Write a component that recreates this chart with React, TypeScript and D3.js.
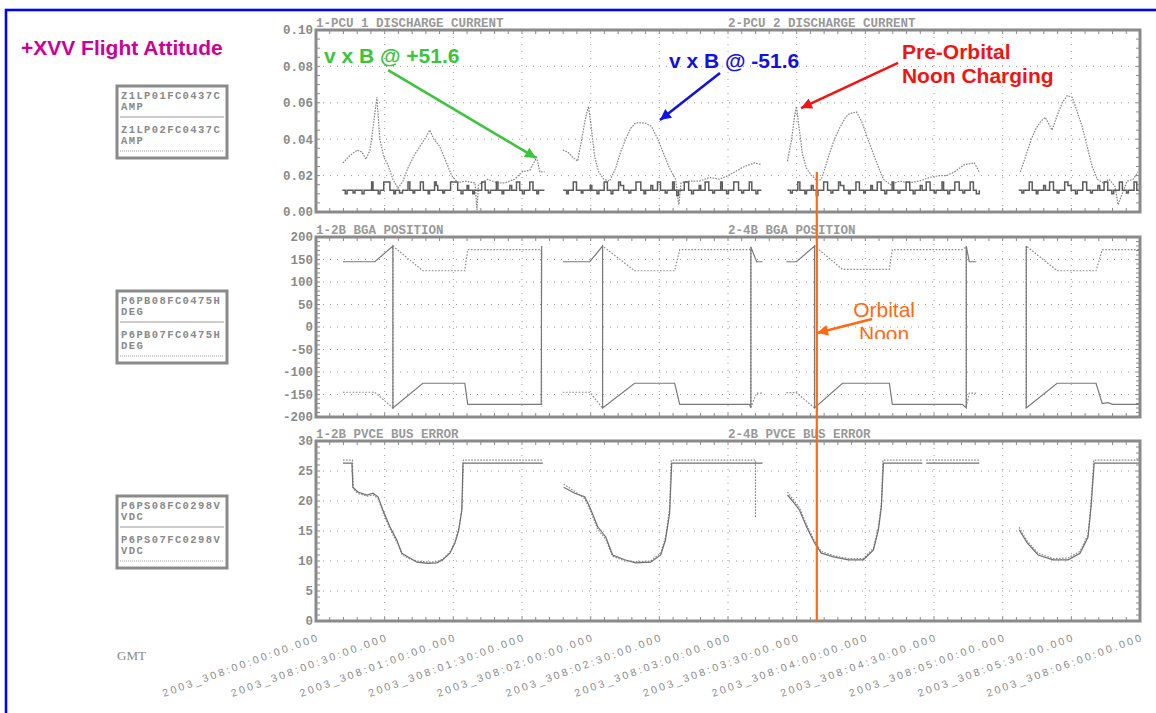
import React, { useEffect, useRef } from 'react'
import * as d3 from 'd3'

type Pt = [number, number] | null

// minutes after 2003_308:00:00:00
const timeTicks = [0, 30, 60, 90, 120, 150, 180, 210, 240, 270, 300, 330, 360]
const timeLabels = [
  '2003_308:00:00:00.000', '2003_308:00:30:00.000', '2003_308:01:00:00.000', '2003_308:01:30:00.000',
  '2003_308:02:00:00.000', '2003_308:02:30:00.000', '2003_308:03:00:00.000', '2003_308:03:30:00.000',
  '2003_308:04:00:00.000', '2003_308:04:30:00.000', '2003_308:05:00:00.000', '2003_308:05:30:00.000',
  '2003_308:06:00:00.000',
]

const pcuTicks = [0, 0.02, 0.04, 0.06, 0.08, 0.1]
const bgaTicks = [-200, -150, -100, -50, 0, 50, 100, 150, 200]
const pvceTicks = [0, 5, 10, 15, 20, 25, 30]

// Z1LP01FC0437C (solid, low stepping trace)
const pcu1: Pt[] = [
  [11.5, 0.012], [12.8, 0.010], [13.6, 0.012], [16.2, 0.0105], [17.0, 0.012], [19.4, 0.012], [20.1, 0.010], [21.0, 0.012],
  [23.7, 0.012], [24.3, 0.0165], [24.9, 0.012], [27.2, 0.010], [28.0, 0.012], [29.6, 0.0165], [32.3, 0.012], [34.0, 0.010],
  [34.7, 0.012], [36.5, 0.0105], [37.8, 0.012], [40.2, 0.0165], [41.0, 0.012], [42.4, 0.0105], [43.1, 0.012], [45.6, 0.0165],
  [46.9, 0.012], [49.0, 0.010], [49.6, 0.012], [51.8, 0.0165], [52.5, 0.0145], [53.2, 0.012], [55.4, 0.0105], [56.1, 0.012],
  [58.8, 0.0165], [61.9, 0.012], [63.4, 0.010], [64.2, 0.012], [66.0, 0.0145], [66.7, 0.012], [68.5, 0.010], [69.2, 0.012],
  [72.4, 0.0165], [73.9, 0.012], [75.3, 0.0105], [76.2, 0.012], [78.8, 0.0165], [79.5, 0.012], [81.3, 0.010], [82.0, 0.012],
  [84.7, 0.0145], [85.5, 0.012], [87.6, 0.0165], [89.0, 0.012], [90.2, 0.010], [91.0, 0.012], [93.4, 0.0165], [94.8, 0.012],
  [96.5, 0.010], [97.2, 0.012], [99.8, 0.012],
  null,
  [108, 0.012], [109.5, 0.010], [110.2, 0.012], [112.4, 0.0165], [113.8, 0.012], [115.9, 0.0105], [116.6, 0.012], [119.1, 0.012],
  [119.8, 0.0145], [120.5, 0.012], [122.8, 0.010], [123.6, 0.012], [125.9, 0.0165], [127.3, 0.012], [128.9, 0.010], [129.7, 0.012],
  [132.2, 0.0165], [133.0, 0.0145], [134.4, 0.012], [136.7, 0.0105], [137.5, 0.012], [139.8, 0.0165], [141.9, 0.012], [143.3, 0.010],
  [144.0, 0.012], [146.3, 0.0145], [147.1, 0.012], [149.2, 0.0165], [150.5, 0.012], [152.6, 0.0105], [153.4, 0.012], [155.8, 0.0165],
  [156.5, 0.012], [157.6, 0.009], [158.4, 0.012], [160.9, 0.0165], [162.8, 0.012], [164.1, 0.010], [164.9, 0.012], [167.4, 0.0145],
  [168.1, 0.012], [170.0, 0.0165], [171.6, 0.012], [173.3, 0.0105], [174.1, 0.012], [176.8, 0.0165], [177.5, 0.012], [179.4, 0.010],
  [180.2, 0.012], [182.5, 0.0165], [184.6, 0.012], [186.0, 0.0105], [186.8, 0.012], [189.3, 0.0165], [190.4, 0.012], [192.2, 0.010],
  [193.0, 0.012], [194.6, 0.012],
  null,
  [206, 0.012], [207.3, 0.0105], [208.1, 0.012], [210.5, 0.0165], [211.4, 0.012], [213.6, 0.010], [214.3, 0.012], [216.4, 0.0145],
  [217.2, 0.012], [218.6, 0.009], [219.3, 0.012], [221.8, 0.0165], [223.5, 0.012], [225.0, 0.0105], [225.8, 0.012], [228.3, 0.0165],
  [229.1, 0.0145], [230.6, 0.012], [232.7, 0.010], [233.4, 0.012], [235.9, 0.0165], [237.4, 0.012], [239.3, 0.0105], [240.0, 0.012],
  [242.4, 0.0145], [243.1, 0.012], [245.2, 0.0165], [246.9, 0.012], [248.5, 0.010], [249.3, 0.012], [251.7, 0.0165], [252.4, 0.012],
  [254.3, 0.0105], [255.1, 0.012], [257.8, 0.0165], [259.4, 0.012], [260.9, 0.010], [261.7, 0.012], [264.0, 0.0145], [264.8, 0.012],
  [266.6, 0.0165], [268.3, 0.012], [270.1, 0.0105], [270.9, 0.012], [273.5, 0.0165], [274.2, 0.012], [276.0, 0.010], [276.8, 0.012],
  [279.1, 0.0165], [281.0, 0.012], [282.6, 0.0105], [283.4, 0.012], [285.8, 0.0165], [287.2, 0.012], [288.5, 0.010], [289.8, 0.012],
  null,
  [307, 0.012], [308.4, 0.0105], [309.2, 0.012], [311.6, 0.0165], [312.9, 0.012], [314.7, 0.010], [315.4, 0.012], [317.9, 0.0145],
  [318.7, 0.012], [320.5, 0.0165], [322.2, 0.012], [323.8, 0.0105], [324.6, 0.012], [327.1, 0.0165], [328.5, 0.0145], [329.9, 0.012],
  [331.8, 0.010], [332.6, 0.012], [335.0, 0.0165], [336.7, 0.012], [338.4, 0.0105], [339.2, 0.012], [341.6, 0.0145], [342.4, 0.012],
  [344.3, 0.0165], [345.9, 0.012], [347.7, 0.010], [348.5, 0.012], [351.0, 0.0165], [352.3, 0.012], [354.1, 0.0105], [354.9, 0.012],
  [357.4, 0.0165], [358.6, 0.012], [359.6, 0.012],
]

// Z1LP02FC0437C (dotted, charging peaks)
const pcu2: Pt[] = [
  [11.8, 0.027], [14.8, 0.031], [17.9, 0.034], [20.1, 0.033], [21.8, 0.029], [23.6, 0.034], [25.3, 0.05], [26.6, 0.063],
  [27.9, 0.04], [29.7, 0.03], [31.4, 0.026], [33.6, 0.018], [35.8, 0.013], [38, 0.017], [40.1, 0.024], [42.8, 0.031],
  [45.4, 0.036], [48, 0.041], [49.7, 0.045], [51.5, 0.04], [54.1, 0.036], [56.7, 0.028], [59.3, 0.02], [62, 0.016],
  [65, 0.017], [69.5, 0.016], [70.3, 0.001], [71, 0.015], [75, 0.018], [79, 0.016], [82.5, 0.016], [86.8, 0.018],
  [89.9, 0.022], [93.4, 0.023], [96.4, 0.03], [97.8, 0.022], [99.9, 0.022],
  null,
  [107.8, 0.034], [110, 0.033], [112.2, 0.03], [114.3, 0.028], [116.1, 0.04], [117.8, 0.052], [119.1, 0.058], [120.4, 0.045],
  [121.8, 0.03], [123.5, 0.022], [125.7, 0.018], [128.3, 0.017], [130.9, 0.024], [133.1, 0.033], [135.3, 0.04], [137.5, 0.046],
  [139.6, 0.049], [143.6, 0.049], [146.6, 0.047], [149.3, 0.04], [151.9, 0.032], [154.5, 0.024], [157.1, 0.018], [158.5, 0.004],
  [159.5, 0.016], [163, 0.017], [167.6, 0.017], [172, 0.019], [176.3, 0.018], [180, 0.02], [182.9, 0.022], [187.2, 0.025],
  [191.6, 0.027], [194.6, 0.026],
  null,
  [206, 0.028], [207.8, 0.04], [209, 0.052], [209.9, 0.058], [211.2, 0.045], [212.5, 0.032], [214.3, 0.024], [216.5, 0.02],
  [219.1, 0.017], [220.8, 0.018], [222.6, 0.025], [224.3, 0.032], [226.5, 0.04], [228.7, 0.046], [231.3, 0.052], [233, 0.054],
  [236.1, 0.055], [238.3, 0.05], [240, 0.044], [242.6, 0.035], [245.3, 0.026], [247.9, 0.018], [251, 0.015], [255, 0.017],
  [259, 0.016], [263.6, 0.017], [268, 0.019], [272.3, 0.02], [275.5, 0.02], [278.9, 0.022], [283.2, 0.026], [287.6, 0.027],
  [289.8, 0.022],
  null,
  [307.7, 0.022], [309.9, 0.03], [312.5, 0.04], [314.6, 0.046], [316.8, 0.05], [318.6, 0.052], [320.3, 0.048], [321.6, 0.045],
  [323.8, 0.053], [326, 0.06], [328.2, 0.064], [330.4, 0.063], [332.6, 0.055], [334.7, 0.047], [336.9, 0.036], [339.1, 0.025],
  [341.3, 0.018], [343.9, 0.016], [346.5, 0.018], [349.1, 0.014], [350.4, 0.004], [352.2, 0.01], [354.4, 0.017], [357, 0.018],
  [359.2, 0.022],
]

// P6PB08FC0475H (solid)
const bga1: Pt[] = [
  [11.8, 145], [25.7, 145], [33.6, 180], [33.6, -180], [46.7, -125], [65, -125], [66.3, -172], [98.4, -172], [98.6, 180],
  null,
  [107.8, 145], [119.6, 145], [125.2, 180], [125.2, -180], [139.2, -125], [156.7, -125], [158.9, -172], [189.4, -172],
  [190, -180], [190, 178], [192.5, 145], [195.1, 145],
  null,
  [205.5, 145], [209.9, 145], [217.8, 180], [217.8, -180], [230, -125], [250.5, -125], [251.8, -172], [282.3, -172],
  [284.1, -180], [284.1, 180], [285.4, 145], [288.5, 145],
  null,
  [310.3, 180], [310.3, -180], [323.8, -125], [340.8, -125], [343.5, -170], [346, -168], [348, -172], [359.6, -172],
]

// P6PB07FC0475H (dotted)
const bga2: Pt[] = [
  [11.8, -145], [25.7, -145], [33.6, -180], [33.6, 180], [46.7, 125], [65, 125], [66.3, 172], [98.4, 172], [98.6, -178],
  null,
  [107.8, -145], [119.6, -145], [125.2, -180], [125.2, 180], [139.2, 125], [156.7, 125], [158.9, 172], [189.4, 172],
  [190, 178], [190, -178], [192.5, -147], [195.1, -147],
  null,
  [205.5, -146], [209.9, -146], [217.8, -180], [217.8, 180], [230, 128], [250.5, 128], [251.8, 172], [282.3, 172],
  [284.1, 178], [284.1, -178], [285.4, -147], [288.5, -147],
  null,
  [310.3, -180], [310.3, 180], [323.8, 125], [340.8, 125], [343.5, 172], [359.6, 172],
]

// P6PS08FC0298V (solid)
const pvce1: Pt[] = [
  [11.8, 26.3], [15.7, 26.3], [16.1, 22.3], [18.3, 21.5], [22.3, 21], [24.9, 21.3], [27.1, 20.7], [29.2, 18.5],
  [32.3, 15.7], [35.3, 13.5], [37.5, 11.3], [41, 10.5], [44.1, 9.8], [48.9, 9.6], [52.8, 9.7], [55.4, 10.2],
  [58.5, 11.3], [60.7, 13], [62.4, 15.2], [63.7, 18.5], [64.2, 26.3], [99.1, 26.3],
  null,
  [108.2, 22.3], [113, 21.3], [117.4, 20.7], [119.6, 19], [123.1, 15.7], [126.6, 14], [129.6, 11], [134.9, 10.2],
  [139.6, 9.7], [146.2, 9.8], [150.6, 11], [152.7, 13.5], [154.5, 18], [155.4, 26.3], [195.1, 26.3],
  null,
  [206, 21], [208.6, 19.8], [211.2, 18.5], [214.3, 15.7], [217.8, 13], [220.8, 11.3], [226.1, 10.7], [232.6, 10.2],
  [239.1, 10.2], [243.5, 11.8], [245.7, 15.2], [247, 19], [247.9, 26.3], [264.9, 26.3],
  null,
  [266.6, 26.3], [289.8, 26.3],
  null,
  [307.2, 15.2], [310.7, 13], [315.5, 11], [322, 10.2], [328.6, 10.2], [333.8, 11.3], [337.3, 14], [338.6, 19],
  [340, 26.3], [359.6, 26.3],
]

// P6PS07FC0298V (dotted)
const pvce2: Pt[] = [
  [11.8, 26.8], [15.9, 26.8], [16.3, 22], [18.5, 21.2], [22.5, 20.8], [25, 21], [27.3, 20.3], [29.4, 18],
  [32.5, 15.2], [35.5, 13], [37.7, 11], [41.2, 10.3], [44.3, 10], [49, 9.8], [53, 9.9], [55.6, 10.4],
  [58.7, 11.6], [60.9, 13.4], [62.6, 15.8], [63.9, 19.2], [64.4, 26.8], [99.1, 26.8],
  null,
  [108.2, 22.8], [113, 21.6], [117.4, 20.4], [119.6, 18.6], [123.1, 15.3], [126.6, 13.6], [129.6, 10.8], [134.9, 10],
  [139.6, 9.9], [146.2, 10], [150.6, 11.3], [152.7, 14], [154.5, 18.8], [155.2, 26.8], [192, 26.8], [192, 17.3],
  null,
  [206, 21.5], [208.6, 20.2], [211.2, 18.9], [214.3, 16.1], [217.8, 13.3], [220.8, 11.6], [226.1, 10.9], [232.6, 10.4],
  [239.1, 10.4], [243.5, 12.1], [245.7, 15.6], [247, 19.6], [247.7, 26.8], [264.9, 26.8],
  null,
  [266.6, 26.8], [289.8, 26.8],
  null,
  [307.2, 15.6], [310.7, 13.3], [315.5, 11.3], [322, 10.4], [328.6, 10.5], [333.8, 11.6], [337.3, 14.4], [338.6, 19.6],
  [339.8, 26.8], [359.6, 26.8],
]

const NOON = 218.8

export default function App() {
  const ref = useRef<SVGSVGElement>(null)

  useEffect(() => {
    const svg = d3.select(ref.current)
    svg.selectAll('*').remove()

    const L = 316, R = 1140
    const gray = '#8a8a8a'
    const mono = '"Liberation Mono", "DejaVu Sans Mono", monospace'
    const sans = '"Liberation Sans", Arial, sans-serif'

    const x = d3.scaleLinear().domain([0, 360]).range([L, R])

    const panels = [
      {
        top: 30, bottom: 212, domain: [0, 0.1], ticks: pcuTicks, minor: 0.005, fmt: d3.format('.2f'),
        titles: ['1-PCU 1 DISCHARGE CURRENT', '2-PCU 2 DISCHARGE CURRENT'],
        legend: ['Z1LP01FC0437C', 'Z1LP02FC0437C'], unit: 'AMP', legendTop: 86,
        series: [
          { data: pcu2, dash: '1.6,1.2', color: '#858585', w: 1.2, curve: d3.curveLinear },
          { data: pcu1, dash: null, color: '#5c5c5c', w: 1.5, curve: d3.curveStepAfter },
        ],
      },
      {
        top: 237, bottom: 417, domain: [-200, 200], ticks: bgaTicks, minor: 10, fmt: (d: number) => String(d),
        titles: ['1-2B BGA POSITION', '2-4B BGA POSITION'],
        legend: ['P6PB08FC0475H', 'P6PB07FC0475H'], unit: 'DEG', legendTop: 291,
        series: [
          { data: bga2, dash: '1.6,1.6', color: '#8a8a8a', w: 1.2, curve: d3.curveLinear },
          { data: bga1, dash: null, color: '#7a7a7a', w: 1.2, curve: d3.curveLinear },
        ],
      },
      {
        top: 441, bottom: 621, domain: [0, 30], ticks: pvceTicks, minor: 1, fmt: (d: number) => String(d),
        titles: ['1-2B PVCE BUS ERROR', '2-4B PVCE BUS ERROR'],
        legend: ['P6PS08FC0298V', 'P6PS07FC0298V'], unit: 'VDC', legendTop: 496,
        series: [
          { data: pvce2, dash: '1.6,1.4', color: '#8a8a8a', w: 1.2, curve: d3.curveLinear },
          { data: pvce1, dash: null, color: '#707070', w: 1.2, curve: d3.curveLinear },
        ],
      },
    ]

    const defs = svg.append('defs')
    const yScales: d3.ScaleLinear<number, number>[] = []

    panels.forEach((p, i) => {
      const y = d3.scaleLinear().domain(p.domain).range([p.bottom, p.top])
      yScales.push(y)
      const g = svg.append('g')

      // grid
      g.append('g').selectAll('line').data(p.ticks.slice(1, -1)).join('line')
        .attr('x1', L).attr('x2', R)
        .attr('y1', d => y(d)).attr('y2', d => y(d))
        .attr('stroke', '#9a9a9a').attr('stroke-width', 1).attr('stroke-dasharray', '1,6')
      g.append('g').selectAll('line').data(timeTicks.slice(1, -1)).join('line')
        .attr('x1', d => x(d)).attr('x2', d => x(d))
        .attr('y1', p.top).attr('y2', p.bottom)
        .attr('stroke', '#9a9a9a').attr('stroke-width', 1).attr('stroke-dasharray', '1,6')

      // minor ticks on the frame
      const mx = d3.range(0, 361, 6)
      const n = Math.round((p.domain[1] - p.domain[0]) / p.minor)
      const my = d3.range(0, n + 1).map(k => p.domain[0] + k * p.minor)
      const tk = g.append('g').attr('stroke', gray).attr('stroke-width', 1)
      mx.forEach(t => {
        tk.append('line').attr('x1', x(t)).attr('x2', x(t)).attr('y1', p.top).attr('y2', p.top + 4)
        tk.append('line').attr('x1', x(t)).attr('x2', x(t)).attr('y1', p.bottom).attr('y2', p.bottom - 4)
      })
      my.forEach(v => {
        tk.append('line').attr('x1', L).attr('x2', L + 4).attr('y1', y(v)).attr('y2', y(v))
        tk.append('line').attr('x1', R).attr('x2', R - 4).attr('y1', y(v)).attr('y2', y(v))
      })

      // traces
      defs.append('clipPath').attr('id', 'clip' + i)
        .append('rect').attr('x', L).attr('y', p.top - 2).attr('width', R - L).attr('height', p.bottom - p.top + 4)
      const plot = g.append('g').attr('clip-path', `url(#clip${i})`)
      p.series.forEach(s => {
        const line = d3.line<Pt>()
          .defined(d => d !== null)
          .x(d => x(d![0]))
          .y(d => y(d![1]))
          .curve(s.curve)
        plot.append('path')
          .attr('d', line(s.data))
          .attr('fill', 'none')
          .attr('stroke', s.color)
          .attr('stroke-width', s.w)
          .attr('stroke-dasharray', s.dash)
          .attr('stroke-linejoin', 'miter')
      })

      // frame
      g.append('rect')
        .attr('x', L).attr('y', p.top).attr('width', R - L).attr('height', p.bottom - p.top)
        .attr('fill', 'none').attr('stroke', gray).attr('stroke-width', 3)

      // y labels
      g.append('g').selectAll('text').data(p.ticks).join('text')
        .attr('x', L - 3).attr('y', d => y(d)).attr('dy', '0.35em')
        .attr('text-anchor', 'end')
        .attr('font-family', mono).attr('font-size', 12.5).attr('font-weight', 'bold')
        .attr('fill', gray)
        .text(d => p.fmt(d))

      // panel titles
      ;[L, 728].forEach((tx, k) => {
        g.append('text')
          .attr('x', tx).attr('y', p.top - 3)
          .attr('font-family', mono).attr('font-size', 12.5).attr('font-weight', 'bold')
          .attr('fill', '#999')
          .text(p.titles[k])
      })

      // legend box
      const ly = p.legendTop
      const lg = g.append('g')
      lg.append('rect').attr('x', 117).attr('y', ly).attr('width', 110).attr('height', 72)
        .attr('fill', '#fff').attr('stroke', gray).attr('stroke-width', 3)
      const txt = (s: string, yy: number) => lg.append('text')
        .attr('x', 121).attr('y', yy)
        .attr('font-family', mono).attr('font-size', 10.5).attr('font-weight', 'bold')
        .attr('letter-spacing', 1.4).attr('fill', gray).text(s)
      txt(p.legend[0], ly + 13)
      txt(p.unit, ly + 24)
      lg.append('line').attr('x1', 120).attr('x2', 224).attr('y1', ly + 31).attr('y2', ly + 31)
        .attr('stroke', '#999').attr('stroke-width', 1)
      txt(p.legend[1], ly + 47)
      txt(p.unit, ly + 58)
      lg.append('line').attr('x1', 120).attr('x2', 224).attr('y1', ly + 65).attr('y2', ly + 65)
        .attr('stroke', '#999').attr('stroke-width', 1).attr('stroke-dasharray', '1,1')
    })

    // time axis labels
    svg.append('g').selectAll('text').data(timeTicks).join('text')
      .attr('transform', d => `translate(${x(d) + 2},641) rotate(-20)`)
      .attr('text-anchor', 'end')
      .attr('font-family', sans).attr('font-size', 10.5)
      .attr('textLength', 164).attr('lengthAdjust', 'spacing')
      .attr('fill', gray)
      .text((d, i) => timeLabels[i])

    svg.append('text').attr('x', 117).attr('y', 660)
      .attr('font-family', '"Liberation Serif", serif').attr('font-size', 13).attr('fill', gray)
      .text('GMT')

    // title
    svg.append('text').attr('x', 21).attr('y', 55)
      .attr('font-family', sans).attr('font-size', 21).attr('font-weight', 'bold')
      .attr('fill', '#cc0099').text('+XVV Flight Attitude')

    // annotations
    const [y1, y2, y3] = yScales
    const marker = (id: string, color: string) => {
      defs.append('marker').attr('id', id)
        .attr('viewBox', '0 0 10 10').attr('refX', 10).attr('refY', 5)
        .attr('markerWidth', 5).attr('markerHeight', 4.2).attr('orient', 'auto')
        .append('path').attr('d', 'M0,0L10,5L0,10Z').attr('fill', color)
    }
    const arrow = (x1: number, yy1: number, x2: number, yy2: number, color: string, id: string) => {
      marker(id, color)
      svg.append('line').attr('x1', x1).attr('y1', yy1).attr('x2', x2).attr('y2', yy2)
        .attr('stroke', color).attr('stroke-width', 2.6).attr('marker-end', `url(#${id})`)
    }
    const label = (s: string, tx: number, ty: number, color: string, anchor = 'start', weight = 'bold') =>
      svg.append('text').attr('x', tx).attr('y', ty).attr('text-anchor', anchor)
        .attr('font-family', sans).attr('font-size', 21).attr('font-weight', weight)
        .attr('fill', color).text(s)

    const green = '#3cc43c', blue = '#1212e0', red = '#f01414', orange = '#ff6a10'

    // orbital noon line
    svg.append('line')
      .attr('x1', x(NOON)).attr('x2', x(NOON))
      .attr('y1', y1(0.022)).attr('y2', y3(0))
      .attr('stroke', orange).attr('stroke-width', 2.2)

    label('v x B @ +51.6', x(3.5), y1(0.0819), green)
    arrow(x(31.5), y1(0.078), x(96.1), y1(0.0297), green, 'ah-g')

    label('v x B @ -51.6', x(154.2), y1(0.0791), blue)
    arrow(x(176.5), y1(0.0764), x(150.3), y1(0.0505), blue, 'ah-b')

    label('Pre-Orbital', x(256), y1(0.0841), red)
    label('Noon Charging', x(256), y1(0.0709), red)
    arrow(x(254.3), y1(0.0819), x(211.9), y1(0.0571), red, 'ah-r')

    defs.append('clipPath').attr('id', 'noonclip')
      .append('rect').attr('x', 0).attr('y', 0).attr('width', 1156).attr('height', 339)
    label('Orbital', x(248.2), y2(22), orange, 'middle', 'normal')
    label('Noon', x(248.2), y2(-32), orange, 'middle', 'normal').attr('clip-path', 'url(#noonclip)')
    arrow(x(242.9), y2(17.8), x(218.9), y2(-13.3), orange, 'ah-o')

    // page border
    svg.append('rect').attr('x', 6).attr('y', 10).attr('width', 1200).attr('height', 800)
      .attr('fill', 'none').attr('stroke', '#0000ff').attr('stroke-width', 2.6)
  }, [])

  return (
    <svg ref={ref} width={1156} height={713}
      style={{ position: 'absolute', left: 0, top: 0, background: '#fff' }} />
  )
}
